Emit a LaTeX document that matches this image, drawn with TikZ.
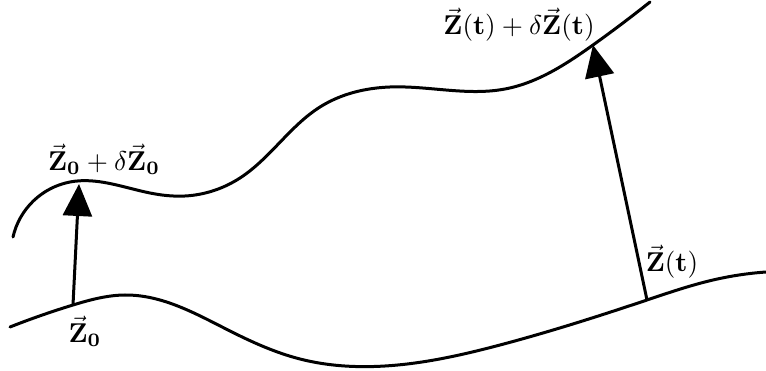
\documentclass[tikz,border=0pt]{standalone}
\usepackage{graphicx}
\usetikzlibrary{arrows.meta,hobby}
\newcommand{\biglbl}[1]{\scalebox{2.72}{#1}}
\begin{document}
\begin{tikzpicture}[x=1pt,y=-1pt,
  curve/.style={line width=3pt, line cap=round},
  vec/.style={line width=3pt, -{Triangle[length=32pt,width=29pt]}},
  lbl/.style={inner sep=0pt}]
\useasboundingbox (0,0) rectangle (766,371);
% bottom curve
\draw[curve, use Hobby shortcut] (10,327) .. (73,305) .. (125,295) .. (230,331) .. (300,359) .. (385,366) .. (500,345) .. (647,300) .. (713,280) .. (766,272);
% top curve
\draw[curve, use Hobby shortcut] (13,237) .. (70,182) .. (150,193) .. (185,196) .. (240,178) .. (320,107) .. (390,87) .. (505,89) .. (593,45) .. (650,2);
\coordinate (b0) at (73,305);
\coordinate (t0) at (79,184);
\coordinate (b1) at (647,300);
\coordinate (t1) at (593,45);
\draw[vec] (b0) -- (t0);
\draw[vec] (b1) -- (t1);
\node[lbl] (l0) at (85,331) {\biglbl{$\vec{\mathbf{Z}}_{\mathbf{0}}$}};
\node[lbl] (l1) at (104,159) {\biglbl{$\vec{\mathbf{Z}}_{\mathbf{0}}+\delta\vec{\mathbf{Z}}_{\mathbf{0}}$}};
\node[lbl] (l2) at (672,262) {\biglbl{$\vec{\mathbf{Z}}(\mathbf{t})$}};
\node[lbl] (l3) at (519,25) {\biglbl{$\vec{\mathbf{Z}}(\mathbf{t})+\delta\vec{\mathbf{Z}}(\mathbf{t})$}};
\end{tikzpicture}
\end{document}
